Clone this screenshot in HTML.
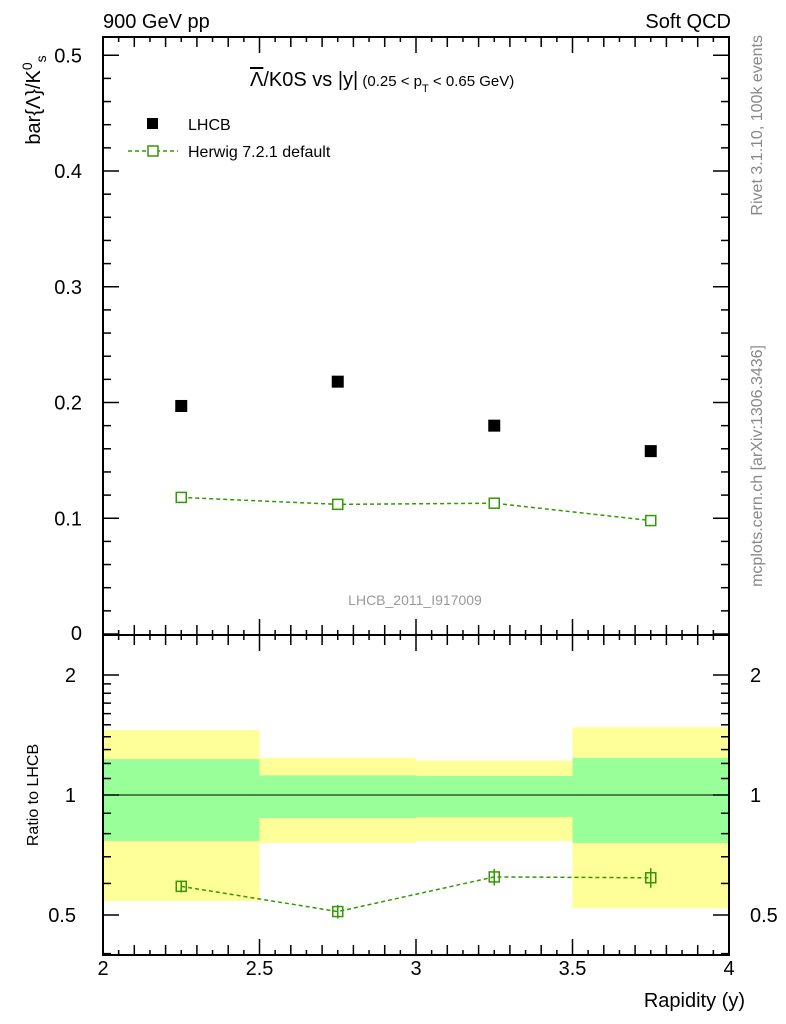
<!DOCTYPE html>
<html><head><meta charset="utf-8"><style>
body{margin:0;background:#fff}
svg{display:block;font-family:"Liberation Sans",sans-serif}
</style></head><body>
<svg id="c" width="786" height="1024" viewBox="0 0 786 1024"></svg>
<script>
const binLo=[2,2.5,3,3.5];
const binHi=[2.5,3,3.5,4];
const xCenters=[2.25,2.75,3.25,3.75];
const lhcb=[0.197,0.218,0.180,0.158];
const herwig=[0.118,0.112,0.113,0.098];
const ratio=[0.59,0.51,0.623,0.62];
const ratioErr=[0.02,0.02,0.03,0.035];
const yellowHi=[1.456,1.24,1.22,1.48];
const yellowLo=[0.542,0.758,0.767,0.52];
const greenHi=[1.23,1.12,1.116,1.24];
const greenLo=[0.767,0.875,0.88,0.758];
const xTicks=[2,2.5,3,3.5,4];
const yTicks=[0.1,0.2,0.3,0.4,0.5];
const rTicks=[0.5,1,2];

const L=103,R=729,T=37,M=635,B=955;
const X=v=>L+(v-2)/2*(R-L);
const Y=v=>634-v*1157.5;
const RY=v=>795-Math.log2(v)*120;
const S=document.getElementById('c');
const NS='http://www.w3.org/2000/svg';
function mk(t,a,p){const e=document.createElementNS(NS,t);for(const k in a)e.setAttribute(k,a[k]);(p||S).appendChild(e);return e;}
function line(x1,y1,x2,y2,c,w,d){return mk('line',{x1,y1,x2,y2,stroke:c||'#000','stroke-width':w||1,'stroke-dasharray':d||'none'});}
function text(x,y,s,sz,anchor,col){const e=mk('text',{x,y,'font-size':sz,'text-anchor':anchor||'start',fill:col||'#000'});e.textContent=s;return e;}

for(let i=0;i<4;i++){
 const y=mk('rect',{x:X(binLo[i]),y:RY(yellowHi[i]),width:X(binHi[i])-X(binLo[i]),height:RY(yellowLo[i])-RY(yellowHi[i]),fill:'#ffff99'});
 
 
 const g=mk('rect',{x:X(binLo[i]),y:RY(greenHi[i]),width:X(binHi[i])-X(binLo[i]),height:RY(greenLo[i])-RY(greenHi[i]),fill:'#99ff99'});
 
 
}
line(L,RY(1),R,RY(1),'#000',1);

mk('rect',{x:L,y:T,width:R-L,height:M-T,fill:'none',stroke:'#000','stroke-width':2});
mk('rect',{x:L,y:M,width:R-L,height:B-M,fill:'none',stroke:'#000','stroke-width':2});

for(let k=0;k<=40;k++){
 const v=2+k*0.05,x=X(v);
 const len=k%10==0?16:(k%2==0?10:5);
 [M,B].forEach(yb=>{line(x,yb,x,yb-len,'#000',1.5);});
 [T,M].forEach(yt=>{line(x,yt,x,yt+len,'#000',1.5);});
}
xTicks.forEach(v=>text(X(v),975,String(v),20,'middle'));
for(let k=0;k<=26;k++){
 const v=k*0.02,y=Y(v);if(y<T)continue;
 const len=k%5==0?16:8;
 line(L,y,L+len,y,'#000',1.5);line(R,y,R-len,y,'#000',1.5);
}
yTicks.forEach(v=>text(82,Y(v)+7,v.toFixed(1),20,'end'));
text(82,640,'0',20,'end');
const rm=[0.4,0.5,0.6,0.7,0.8,0.9,1,1.1,1.2,1.3,1.4,1.5,1.6,1.7,1.8,1.9,2];
rm.forEach(v=>{const y=RY(v);if(y>B||y<M)return;const len=rTicks.includes(v)?16:8;line(L,y,L+len,y,'#000',1.5);line(R,y,R-len,y,'#000',1.5);});
rTicks.forEach(v=>{text(76,RY(v)+7,String(v),20,'end');text(750,RY(v)+7,String(v),20,'start');});

let pts=xCenters.map((v,i)=>X(v)+','+Y(herwig[i])).join(' ');
mk('polyline',{points:pts,fill:'none',stroke:'#339900','stroke-width':1.5,'stroke-dasharray':'4,3'});
xCenters.forEach((v,i)=>{const r=mk('rect',{x:X(v)-5,y:Y(herwig[i])-5,width:10,height:10,fill:'#fff',stroke:'#339900','stroke-width':1.5});
 
 });
xCenters.forEach((v,i)=>{const r=mk('rect',{x:X(v)-6,y:Y(lhcb[i])-6,width:12,height:12,fill:'#000'});
 
 });
pts=xCenters.map((v,i)=>X(v)+','+RY(ratio[i])).join(' ');
mk('polyline',{points:pts,fill:'none',stroke:'#339900','stroke-width':1.5,'stroke-dasharray':'4,3'});
xCenters.forEach((v,i)=>{const x=X(v);line(x,RY(ratio[i]+ratioErr[i]),x,RY(ratio[i]-ratioErr[i]),'#339900',1.5);
 const r=mk('rect',{x:x-5,y:RY(ratio[i])-5,width:10,height:10,fill:'none',stroke:'#339900','stroke-width':1.5});
 
 });

text(103,28,'900 GeV pp',20,'start');
text(731,28,'Soft QCD',20,'end');
const tt=mk('text',{x:250,y:86,'font-size':20});tt.innerHTML='<tspan text-decoration="overline">Λ</tspan>/K0S vs |y|<tspan font-size="15"> (0.25 &lt; p</tspan><tspan font-size="11" dy="6">T</tspan><tspan font-size="15" dy="-6"> &lt; 0.65 GeV)</tspan>';

mk('rect',{x:147,y:118,width:11,height:11,fill:'#000'});
text(188,130,'LHCB',16,'start');
line(128,151,178,151,'#339900',1.5,'4,3');
mk('rect',{x:148,y:146,width:10,height:10,fill:'#fff',stroke:'#339900','stroke-width':1.5});
text(188,157,'Herwig 7.2.1 default',16,'start');
text(415,605,'LHCB_2011_I917009',14,'middle','#999');
const yl=mk('text',{transform:'translate(40,100) rotate(-90)','font-size':20,'text-anchor':'middle'});yl.innerHTML='bar{Λ}/K<tspan font-size="14" dy="-8">0</tspan><tspan font-size="14" dy="14">s</tspan>';

const rl=mk('text',{transform:'translate(38,795) rotate(-90)','font-size':16,'text-anchor':'middle'});rl.textContent='Ratio to LHCB';
text(745,1007,'Rapidity (y)',20,'end');
const s1=mk('text',{transform:'translate(762,35) rotate(-90)','font-size':16,'text-anchor':'end',fill:'#888'});s1.textContent='Rivet 3.1.10,  100k events';
const s2=mk('text',{transform:'translate(762,345) rotate(-90)','font-size':16,'text-anchor':'end',fill:'#888'});s2.textContent='mcplots.cern.ch [arXiv:1306.3436]';
</script>
</body></html>
